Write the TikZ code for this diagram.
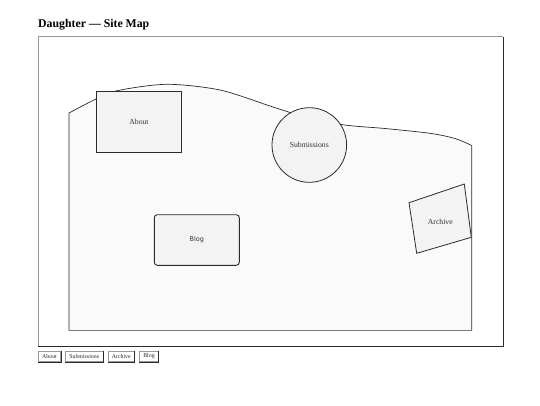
\documentclass[tikz,border=0pt]{standalone}
\usepackage{fontspec}
\setmainfont{Liberation Serif}
\newfontfamily\blogfont{DejaVu Sans}
\definecolor{inkc}{HTML}{2B2B2B}
\definecolor{lblc}{HTML}{333333}
\definecolor{edgegray}{HTML}{9A9A9A}
\definecolor{areafill}{HTML}{FAFAFA}
\definecolor{boxfill}{HTML}{F3F3F3}
\tikzset{
  pagebox/.style={draw=none, fill=boxfill, inner sep=0pt, text=lblc, font=\fontsize{7.7}{9}\selectfont},
  btn/.style={draw=edgegray, line width=0.7pt, fill=white, inner sep=0pt, minimum height=10.7pt, text=inkc, font=\fontsize{5.9}{7}\selectfont},
  darkedge/.style={draw=inkc, line width=0.8pt},
}
\begin{document}
\begin{tikzpicture}[x=1pt,y=-1pt]
\useasboundingbox (0,0) rectangle (540,405);
% title
\node[anchor=base west, inner sep=0pt, font=\bfseries\fontsize{11.8}{14}\selectfont] (title) at (38,27.5) {Daughter — Site Map};
% outer frame
\draw[edgegray, line width=1pt] (38,346.7) -- (38,36.7) -- (503,36.7);
\draw[inkc, line width=1pt] (503,36.7) -- (503,346.7) -- (38,346.7);
% inner area
\fill[areafill] (69,330.5) -- plot[smooth, tension=0.5] coordinates {(69,113) (96,99) (118,90.5) (167,84.3) (220,90) (270,106) (290,112.5) (340,124.3) (385,128.5) (430,133.3) (455,138.5) (471.7,145.5)} -- (471.7,330.5) -- cycle;
\draw[inkc, line width=0.7pt] (69,330.5) -- plot[smooth, tension=0.5] coordinates {(69,113) (96,99) (118,90.5) (167,84.3) (220,90) (270,106) (290,112.5) (340,124.3) (385,128.5) (430,133.3) (455,138.5) (471.7,145.5)} -- (471.7,330.5);
\draw[edgegray!80!black, line width=1.2pt] (68.6,330.5) -- (472.1,330.5);
% About
\node[pagebox, draw=inkc, line width=0.8pt, minimum width=85.4pt, minimum height=61.7pt] (about) at (139,121.9) {About};
% Submissions
\node[pagebox, circle, draw=inkc, line width=0.8pt, minimum size=74.6pt] (subm) at (309.3,145) {Submissions};
% Blog
\node[pagebox, draw=inkc, line width=0.9pt, rounded corners=3pt, minimum width=85pt, minimum height=50.6pt, font=\blogfont\fontsize{6.5}{8}\selectfont] (blog) at (196.8,240) {Blog};
% Archive
\draw[inkc, line width=0.8pt, fill=boxfill] (409,202.7) -- (464.3,184) -- (471.3,237.3) -- (416.7,253.3) -- cycle;
\node[pagebox, fill=none] (archive) at (440.3,221.7) {Archive};
% buttons
\node[btn, minimum width=22.4pt] (b1) at (49.5,356.3) {About};
\node[btn, minimum width=38.3pt] (b2) at (84.2,356.3) {Submissions};
\node[btn, minimum width=26.3pt] (b3) at (121.3,356.3) {Archive};
\node[btn, minimum width=19pt] (b4) at (149,356.3) {Blog};
\foreach \b in {b1,b2,b3,b4}{
  \draw[darkedge] (\b.north east) -- (\b.south east) -- (\b.south west);
}
\end{tikzpicture}
\end{document}
